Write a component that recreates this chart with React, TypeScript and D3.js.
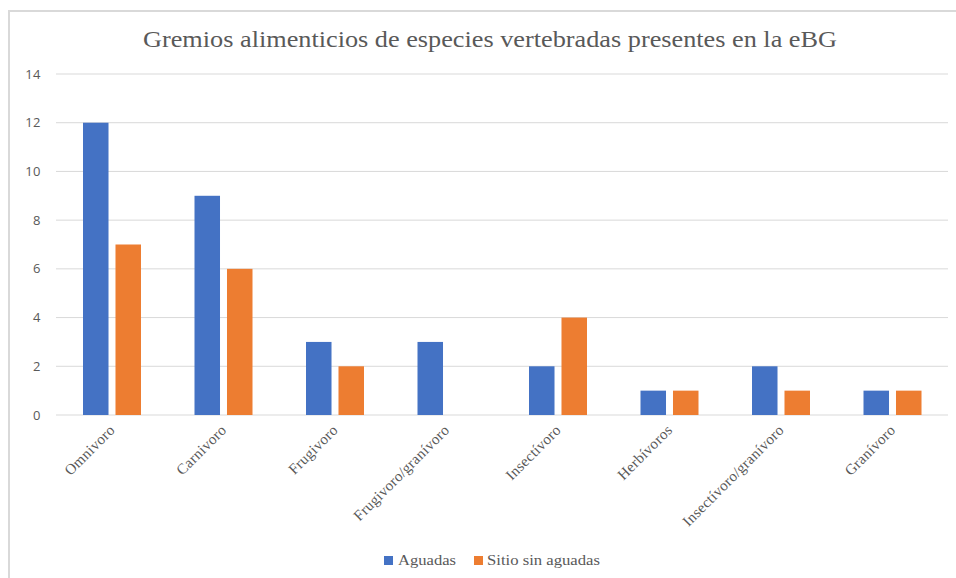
import React from "react";
import * as d3 from "d3";

const categories = [
  "Omnivoro",
  "Carnivoro",
  "Frugivoro",
  "Frugivoro/granívoro",
  "Insectívoro",
  "Herbívoros",
  "Insectívoro/granívoro",
  "Granívoro",
];
const seriesNames = ["Aguadas", "Sitio sin aguadas"];
const aguadas = [12, 9, 3, 3, 2, 1, 2, 1];
const sitioSinAguadas = [7, 6, 2, 0, 4, 1, 1, 1];
const yTicks = [0, 2, 4, 6, 8, 10, 12, 14];
const title = "Gremios alimenticios de especies vertebradas presentes en la eBG";

const colors = ["#4472C4", "#ED7D31"];

export default function App() {
  const W = 956;
  const H = 578;
  const x0 = d3.scaleBand<string>().domain(categories).range([56, 948]).paddingInner(0).paddingOuter(0);
  const x1 = d3.scaleBand<string>().domain(seriesNames).range([27, 85]).paddingInner(0.215).paddingOuter(0);
  const y = d3.scaleLinear().domain([0, 14]).range([415, 74]);
  const values = [aguadas, sitioSinAguadas];
  const serif = "'Liberation Serif', 'Times New Roman', serif";
  const sans = "'Open Sans', 'Noto Sans', sans-serif";

  return (
    <svg
      width={W}
      height={H}
      style={{ position: "absolute", left: 0, top: 0, background: "#fff" }}
    >
      <rect x={0} y={0} width={W} height={H} fill="#fff" />
      <rect x={9} y={11} width={980} height={600} fill="none" stroke="#d9d9d9" strokeWidth={2} />
      <text
        x={490}
        y={47}
        textAnchor="middle"
        fontFamily={serif}
        fontSize={24}
        fill="#595959"
        textLength={694}
        lengthAdjust="spacingAndGlyphs"
      >
        {title}
      </text>
      {yTicks.map((t) => (
        <g key={t}>
          <line x1={56} x2={948} y1={y(t)} y2={y(t)} stroke="#d9d9d9" strokeWidth={1} />
          <text
            x={41}
            y={y(t)}
            dy="0.35em"
            textAnchor="end"
            fontFamily={sans}
            fontSize={13}
            fill="#595959"
            letterSpacing={0.5}
          >
            {t}
          </text>
        </g>
      ))}
      {categories.map((c, i) => (
        <g key={c} transform={`translate(${x0(c)},0)`}>
          {seriesNames.map((s, j) => {
            const v = values[j][i];
            if (!v) return null;
            return (
              <rect
                key={s}
                x={x1(s)}
                y={y(v)}
                width={x1.bandwidth()}
                height={y(0) - y(v)}
                fill={colors[j]}
              />
            );
          })}
        </g>
      ))}
      {categories.map((c) => {
        const cx = (x0(c) as number) + x0.bandwidth() / 2;
        return (
          <text
            key={c}
            transform={`translate(${cx + 4},${431}) rotate(-45)`}
            textAnchor="end"
            fontFamily={serif}
            fontSize={15}
            fill="#595959"
            letterSpacing={0.3}
          >
            {c}
          </text>
        );
      })}
      <g>
        <rect x={384} y={556} width={9} height={9} fill={colors[0]} />
        <text x={398} y={565} fontFamily={serif} fontSize={15} fill="#595959" textLength={58} lengthAdjust="spacingAndGlyphs">
          {seriesNames[0]}
        </text>
        <rect x={474} y={556} width={9} height={9} fill={colors[1]} />
        <text x={487} y={565} fontFamily={serif} fontSize={15} fill="#595959" textLength={113} lengthAdjust="spacingAndGlyphs">
          {seriesNames[1]}
        </text>
      </g>
    </svg>
  );
}
